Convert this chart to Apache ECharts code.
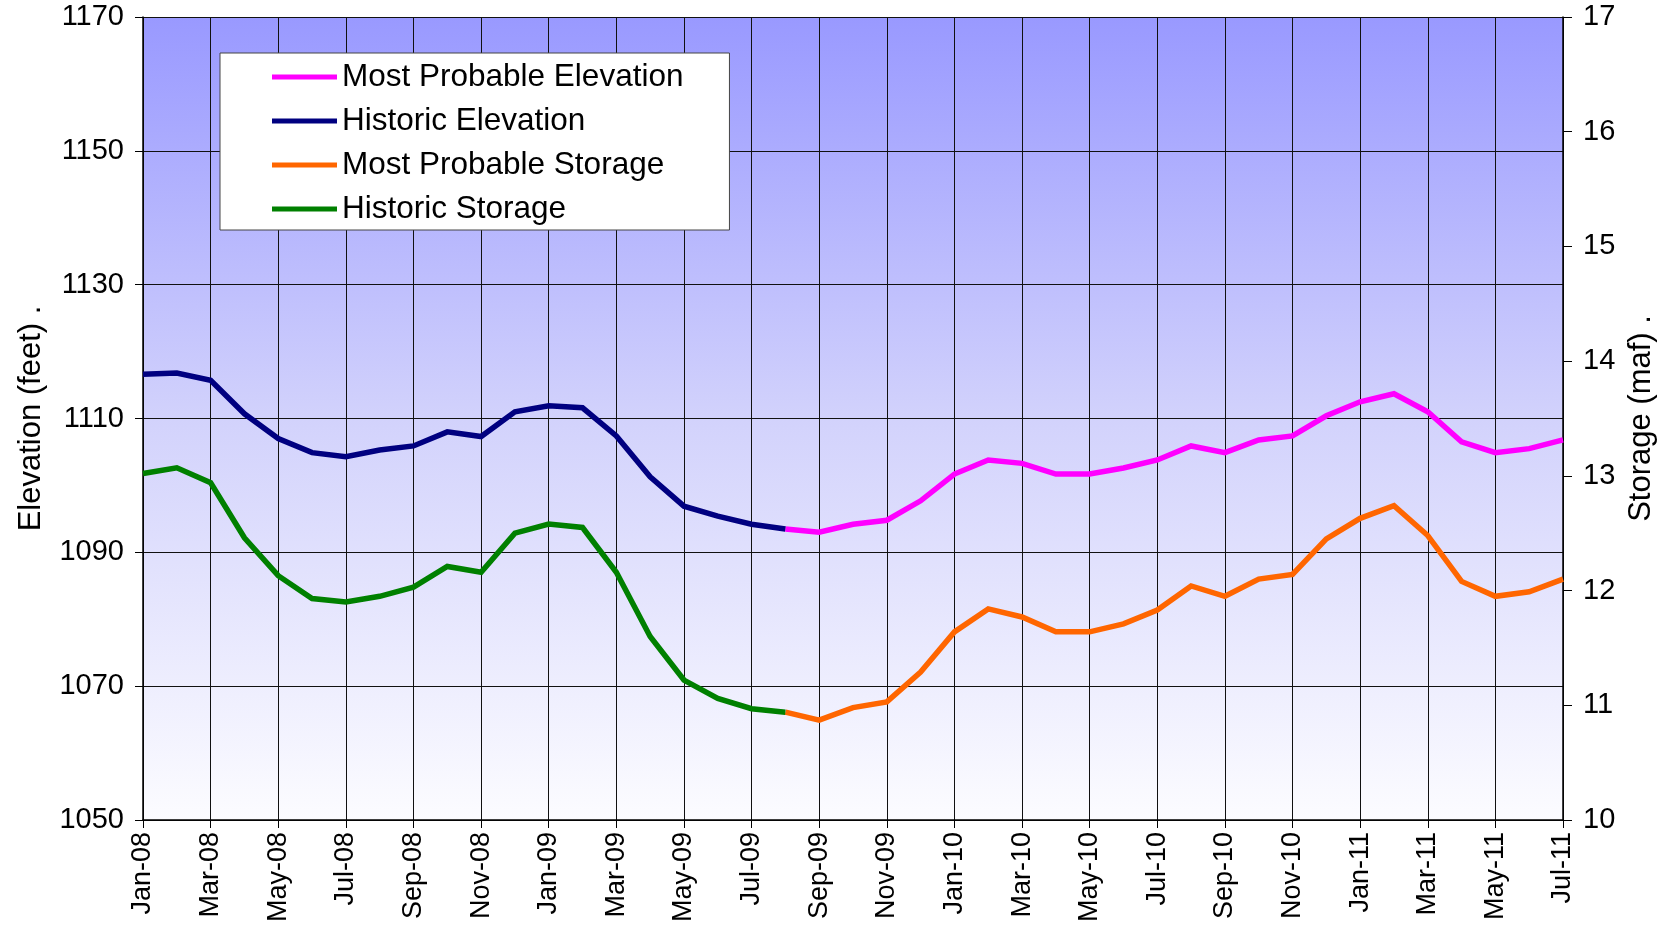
<!DOCTYPE html>
<html>
<head>
<meta charset="utf-8">
<script src="https://cdn.jsdelivr.net/npm/echarts@6/dist/echarts.min.js"></script>
<style>
  html, body { margin: 0; padding: 0; background: #ffffff; }
  #chart { width: 1669px; height: 926px; }
</style>
</head>
<body>
<div id="chart"></div>
<script>
// Monthly categories, Jan-08 through Jul-11
const months = [
  'Jan-08','Feb-08','Mar-08','Apr-08','May-08','Jun-08','Jul-08','Aug-08','Sep-08','Oct-08','Nov-08','Dec-08',
  'Jan-09','Feb-09','Mar-09','Apr-09','May-09','Jun-09','Jul-09','Aug-09','Sep-09','Oct-09','Nov-09','Dec-09',
  'Jan-10','Feb-10','Mar-10','Apr-10','May-10','Jun-10','Jul-10','Aug-10','Sep-10','Oct-10','Nov-10','Dec-10',
  'Jan-11','Feb-11','Mar-11','Apr-11','May-11','Jun-11','Jul-11'
];

// Historic record, Jan-08 .. Aug-09
const historicElevation = [
  1116.6, 1116.8, 1115.7, 1110.7, 1107.0, 1104.9, 1104.3, 1105.3, 1105.9, 1108.0, 1107.3, 1111.0,
  1111.9, 1111.6, 1107.4, 1101.3, 1096.9, 1095.4, 1094.2, 1093.5
];
const historicStorage = [
  13.02, 13.07, 12.94, 12.46, 12.13, 11.93, 11.90, 11.95, 12.03, 12.21, 12.16, 12.50,
  12.58, 12.55, 12.16, 11.60, 11.22, 11.06, 10.97, 10.94
];

// Most probable projection, Aug-09 .. Jul-11
const probableElevation = [
  1093.5, 1093.0, 1094.2, 1094.8, 1097.7,
  1101.7, 1103.8, 1103.3, 1101.7, 1101.7, 1102.6, 1103.8, 1105.9, 1104.9, 1106.8, 1107.4, 1110.4,
  1112.5, 1113.7, 1111.0, 1106.5, 1104.9, 1105.5, 1106.8
];
const probableStorage = [
  10.94, 10.87, 10.98, 11.03, 11.29,
  11.64, 11.84, 11.77, 11.64, 11.64, 11.71, 11.83, 12.04, 11.95, 12.10, 12.14, 12.45,
  12.63, 12.74, 12.48, 12.08, 11.95, 11.99, 12.10
];

// Axis ranges
const elevationTicks = { min: 1050, max: 1170, step: 20 };
const storageTicks = { min: 10, max: 17, step: 1 };

const projectionStart = months.indexOf('Aug-09');

function alignFrom(start, values) {
  const out = new Array(months.length).fill(null);
  values.forEach((v, i) => { out[start + i] = v; });
  return out;
}

const FONT = "'Liberation Sans', Arial, sans-serif";
const chart = echarts.init(document.getElementById('chart'), null, { renderer: 'canvas' });

function lineSeries(name, color, yAxisIndex, data) {
  return {
    name, type: 'line', yAxisIndex, data,
    showSymbol: false, symbol: 'none', connectNulls: false,
    lineStyle: { color, width: 5.5, join: 'miter' },
    itemStyle: { color },
    emphasis: { disabled: true },
    z: 3
  };
}

chart.setOption({
  animation: false,
  textStyle: { fontFamily: FONT },
  grid: {
    left: 143, right: 106, top: 17, bottom: 106,
    show: true, borderWidth: 0,
    backgroundColor: {
      type: 'linear', x: 0, y: 0, x2: 0, y2: 1,
      colorStops: [
        { offset: 0, color: '#9999ff' },
        { offset: 0.5, color: '#d2d2fc' },
        { offset: 1, color: '#fcfcff' }
      ]
    }
  },
  legend: {
    orient: 'vertical',
    left: 220, top: 53,
    padding: [5, 46, 2, 52],
    backgroundColor: '#ffffff',
    borderColor: '#444444', borderWidth: 1,
    itemWidth: 65, itemHeight: 5, itemGap: 6,
    icon: 'rect',
    textStyle: { fontFamily: FONT, fontSize: 31.5, color: '#000', lineHeight: 38 },
    data: ['Most Probable Elevation', 'Historic Elevation', 'Most Probable Storage', 'Historic Storage']
  },
  xAxis: {
    type: 'category',
    data: months,
    boundaryGap: false,
    axisLine: { lineStyle: { color: '#000', width: 1.5 } },
    axisTick: { show: true, interval: 1, length: 8, lineStyle: { color: '#000' } },
    axisLabel: {
      interval: 1, rotate: 90, margin: 12,
      fontFamily: FONT, fontSize: 27, color: '#000'
    },
    splitLine: { show: true, interval: 1, lineStyle: { color: '#111', width: 1 } }
  },
  yAxis: [
    {
      type: 'value', position: 'left',
      min: elevationTicks.min, max: elevationTicks.max, interval: elevationTicks.step,
      name: 'Elevation (feet) .', nameLocation: 'middle', nameRotate: 90, nameGap: 96,
      nameTextStyle: { fontFamily: FONT, fontSize: 31, color: '#000' },
      axisLine: { show: true, lineStyle: { color: '#000', width: 1.5 } },
      axisTick: { show: true, length: 8, lineStyle: { color: '#000' } },
      axisLabel: { fontFamily: FONT, fontSize: 29, color: '#000', margin: 19, formatter: v => String(v) },
      splitLine: { show: true, lineStyle: { color: '#111', width: 1 } }
    },
    {
      type: 'value', position: 'right',
      min: storageTicks.min, max: storageTicks.max, interval: storageTicks.step,
      name: 'Storage (maf) .', nameLocation: 'middle', nameRotate: 90, nameGap: 60,
      nameTextStyle: { fontFamily: FONT, fontSize: 31, color: '#000' },
      axisLine: { show: true, lineStyle: { color: '#000', width: 1.5 } },
      axisTick: { show: true, length: 9, lineStyle: { color: '#000' } },
      axisLabel: { fontFamily: FONT, fontSize: 29, color: '#000', margin: 20, formatter: v => String(v) },
      splitLine: { show: false }
    }
  ],
  series: [
    lineSeries('Most Probable Elevation', '#ff00ff', 0, alignFrom(projectionStart, probableElevation)),
    lineSeries('Historic Elevation', '#000080', 0, alignFrom(0, historicElevation)),
    lineSeries('Most Probable Storage', '#ff6600', 1, alignFrom(projectionStart, probableStorage)),
    lineSeries('Historic Storage', '#008000', 1, alignFrom(0, historicStorage))
  ]
});
</script>
</body>
</html>
